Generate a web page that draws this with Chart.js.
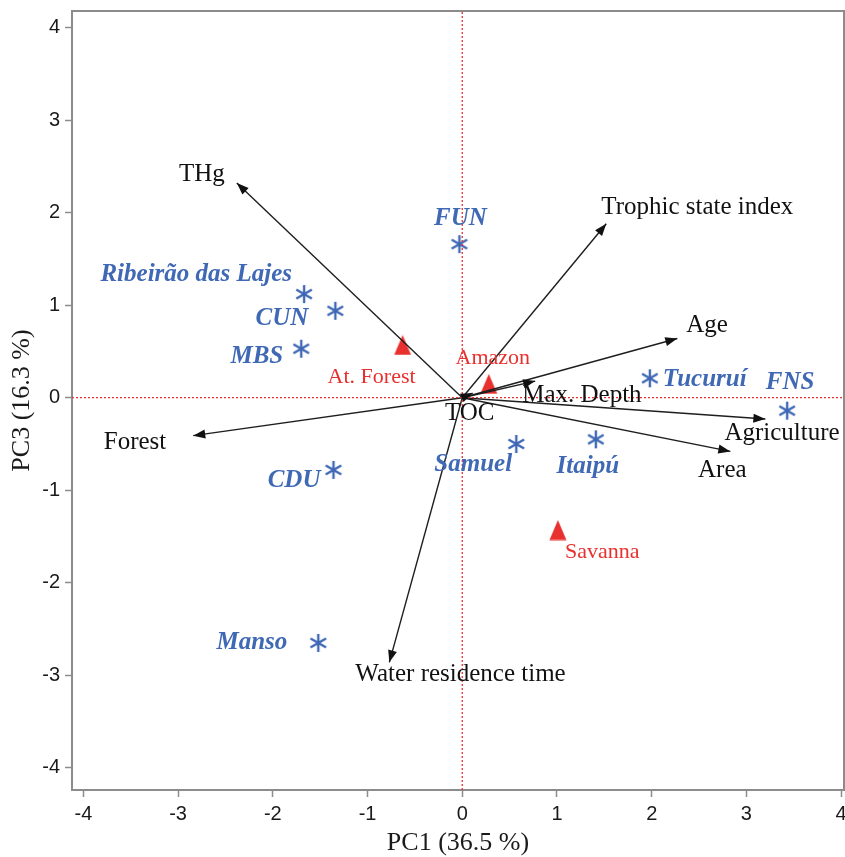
<!DOCTYPE html>
<html><head><meta charset="utf-8">
<script src="https://cdn.jsdelivr.net/npm/chart.js@4/dist/chart.umd.min.js"></script>
<style>html,body{margin:0;padding:0;background:#fff}#wrap{width:845px;height:857px;position:relative}</style>
</head><body><div id="wrap"><canvas id="c" width="845" height="857"></canvas></div>
<script>
// ---- data ----
const variableNames = ['THg','Trophic state index','Age','Max. Depth','TOC','Agriculture','Area','Forest','Water residence time'];
const variablePC1 = [-2.38, 1.52, 2.27, 0.77, 0.11, 3.20, 2.83, -2.84, -0.77];
const variablePC3 = [ 2.32, 1.88, 0.64, 0.18, 0.05, -0.23, -0.58, -0.41, -2.86];

const reservoirNames = ['FUN','Ribeirão das Lajes','CUN','MBS','Tucuruí','FNS','Samuel','Itaipú','CDU','Manso'];
const reservoirPC1 = [-0.03, -1.67, -1.34, -1.70, 1.98, 3.43, 0.57, 1.41, -1.36, -1.52];
const reservoirPC3 = [ 1.66,  1.12,  0.94,  0.53, 0.21, -0.14, -0.50, -0.45, -0.78, -2.65];

const biomeNames = ['At. Forest','Amazon','Savanna'];
const biomePC1 = [-0.63, 0.28, 1.01];
const biomePC3 = [ 0.57, 0.15, -1.43];

const tickValues = [-4,-3,-2,-1,0,1,2,3,4];
const xTitle = 'PC1 (36.5 %)';
const yTitle = 'PC3 (16.3 %)';
const xRange = [-4.12, 4.03];
const yRange = [-4.24, 4.18];

// ---- styling (label offsets in pixels) ----
const BLUE = '#3f68b5', RED = '#e8312f', AXIS = '#8c8c8c';
const SERIF = '"Liberation Serif","Times New Roman",serif';
const varLabelStyle = [
  {dx:-35,dy:-9,align:'center'},{dx:-5,dy:-16,align:'left'},{dx:9,dy:-13,align:'left'},
  {dx:-13,dy:14,align:'left'},{dx:-3,dy:20,align:'center'},{dx:-41,dy:14,align:'left'},
  {dx:-8,dy:19,align:'center'},{dx:-27,dy:7,align:'right'},{dx:-34,dy:12,align:'left'}
];
const resLabelStyle = [
  {dx:1,dy:-26,align:'center'},{dx:-12,dy:-20,align:'right'},{dx:-27,dy:8,align:'right'},
  {dx:-18,dy:8,align:'right'},{dx:13,dy:1,align:'left'},{dx:3,dy:-28,align:'center'},
  {dx:-43,dy:21,align:'center'},{dx:-8,dy:27,align:'center'},{dx:-13,dy:11,align:'right'},
  {dx:-31,dy:0,align:'right'}
];
const biomeLabelStyle = [
  {dx:-31,dy:32,align:'center'},{dx:4,dy:-26,align:'center'},{dx:7,dy:22,align:'left'}
];

function makeAsterisk(){
  const c=document.createElement('canvas'); c.width=22; c.height=22;
  const g=c.getContext('2d'); g.strokeStyle=BLUE; g.lineWidth=2.4; g.translate(11,11);
  [90,30,150].forEach(a=>{const r=a*Math.PI/180;g.beginPath();g.moveTo(-9*Math.cos(r),-9*Math.sin(r));g.lineTo(9*Math.cos(r),9*Math.sin(r));g.stroke();});
  return c;
}
function makeTriangle(){
  const c=document.createElement('canvas'); c.width=18; c.height=21;
  const g=c.getContext('2d'); g.fillStyle=RED; g.beginPath();
  g.moveTo(9,0.5); g.lineTo(17.5,20.5); g.lineTo(0.5,20.5); g.closePath(); g.fill();
  return c;
}

const datasets = [];
datasets.push({type:'line',data:[{x:0,y:yRange[0]},{x:0,y:yRange[1]}],borderColor:RED,borderWidth:1.3,borderDash:[2,2],pointRadius:0,fill:false});
datasets.push({type:'line',data:[{x:xRange[0],y:0},{x:xRange[1],y:0}],borderColor:RED,borderWidth:1.3,borderDash:[2,2],pointRadius:0,fill:false});
variableNames.forEach((n,i)=>{
  datasets.push({type:'line',label:n,data:[{x:0,y:0},{x:variablePC1[i],y:variablePC3[i]}],borderColor:'#1e1e1e',borderWidth:1.4,pointRadius:0,fill:false});
});
datasets.push({type:'scatter',label:'reservoirs',data:reservoirPC1.map((v,i)=>({x:v,y:reservoirPC3[i]})),pointStyle:makeAsterisk(),pointRadius:9});
datasets.push({type:'scatter',label:'biomes',data:biomePC1.map((v,i)=>({x:v,y:biomePC3[i]})),pointStyle:makeTriangle(),pointRadius:9});

const zeroPad = () => ({left:0,top:0,right:0,bottom:0});

const overlay = {
  id:'overlay',
  afterDatasetsDraw(chart){
    const ctx=chart.ctx, xs=chart.scales.x, ys=chart.scales.y, ca=chart.chartArea;
    ctx.save();
    variableNames.forEach((n,i)=>{
      const x0=xs.getPixelForValue(0), y0=ys.getPixelForValue(0);
      const x1=xs.getPixelForValue(variablePC1[i]), y1=ys.getPixelForValue(variablePC3[i]);
      const a=Math.atan2(y1-y0,x1-x0), L=12, W=4.5;
      ctx.fillStyle='#111';
      ctx.beginPath();
      ctx.moveTo(x1,y1);
      ctx.lineTo(x1-L*Math.cos(a)+W*Math.sin(a), y1-L*Math.sin(a)-W*Math.cos(a));
      ctx.lineTo(x1-L*Math.cos(a)-W*Math.sin(a), y1-L*Math.sin(a)+W*Math.cos(a));
      ctx.closePath(); ctx.fill();
    });
    ctx.textBaseline='middle';
    ctx.font='25px '+SERIF; ctx.fillStyle='#111';
    variableNames.forEach((n,i)=>{
      const s=varLabelStyle[i]; ctx.textAlign=s.align;
      ctx.fillText(n, xs.getPixelForValue(variablePC1[i])+s.dx, ys.getPixelForValue(variablePC3[i])+s.dy);
    });
    ctx.font='italic bold 25px '+SERIF; ctx.fillStyle=BLUE;
    reservoirNames.forEach((n,i)=>{
      const s=resLabelStyle[i]; ctx.textAlign=s.align;
      ctx.fillText(n, xs.getPixelForValue(reservoirPC1[i])+s.dx, ys.getPixelForValue(reservoirPC3[i])+s.dy);
    });
    ctx.font='22px '+SERIF; ctx.fillStyle=RED;
    biomeNames.forEach((n,i)=>{
      const s=biomeLabelStyle[i]; ctx.textAlign=s.align;
      ctx.fillText(n, xs.getPixelForValue(biomePC1[i])+s.dx, ys.getPixelForValue(biomePC3[i])+s.dy);
    });
    ctx.strokeStyle=AXIS; ctx.lineWidth=2;
    ctx.beginPath(); ctx.moveTo(ca.left,ca.top); ctx.lineTo(ca.right,ca.top); ctx.lineTo(ca.right,ca.bottom); ctx.stroke();
    ctx.restore();
  }
};

const tickFont = {family:'"Liberation Sans",Arial,sans-serif', size:20};
new Chart(document.getElementById('c'), {
  type:'scatter',
  data:{datasets},
  options:{
    responsive:false, animation:false,
    layout:{autoPadding:false,padding:{top:11,right:1,left:0,bottom:0}},
    plugins:{legend:{display:false},tooltip:{enabled:false}},
    scales:{
      x:{type:'linear',min:xRange[0],max:xRange[1],
        afterBuildTicks(s){s.ticks=tickValues.map(v=>({value:v}));},
        afterFit(s){s.height=67;s.paddingLeft=0;s.paddingRight=0;s.getPadding=zeroPad;},
        ticks:{font:tickFont,color:'#1a1a1a',padding:5,includeBounds:false,maxRotation:0,autoSkip:false},
        grid:{drawOnChartArea:false,drawTicks:true,tickLength:7,color:AXIS,tickWidth:1.5},
        border:{display:true,color:AXIS,width:2},
        title:{display:true,text:xTitle,font:{family:SERIF,size:26,lineHeight:1},color:'#1a1a1a',padding:{top:0,bottom:1}}
      },
      y:{type:'linear',min:yRange[0],max:yRange[1],
        afterBuildTicks(s){s.ticks=tickValues.map(v=>({value:v}));},
        afterFit(s){s.width=72;s.paddingTop=0;s.paddingBottom=0;s.getPadding=zeroPad;},
        ticks:{font:tickFont,color:'#1a1a1a',padding:5,includeBounds:false,autoSkip:false},
        grid:{drawOnChartArea:false,drawTicks:true,tickLength:7,color:AXIS,tickWidth:1.5},
        border:{display:true,color:AXIS,width:2},
        title:{display:true,text:yTitle,font:{family:SERIF,size:26,lineHeight:1},color:'#1a1a1a',padding:{top:9,bottom:0}}
      }
    }
  },
  plugins:[overlay]
});
</script></body></html>
